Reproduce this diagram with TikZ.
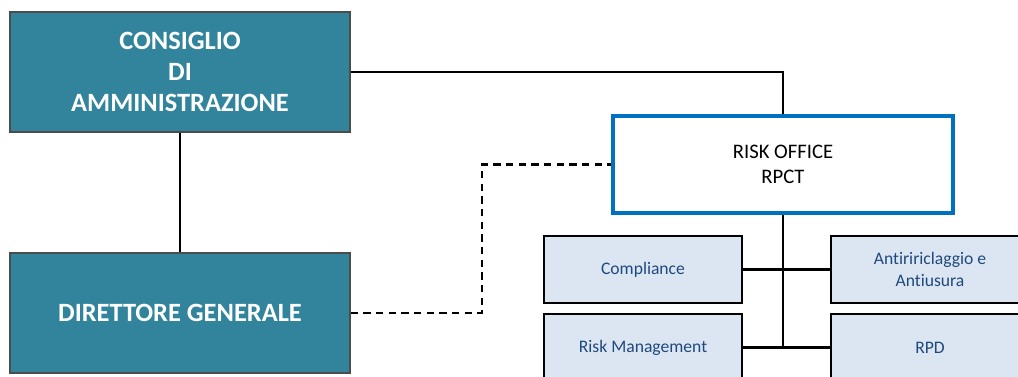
\documentclass[tikz,border=0pt]{standalone}
\usepackage{fontspec}
\setmainfont{Carlito}[Ligatures={NoCommon}]
\usepackage{tikz}

\definecolor{tealbox}{HTML}{31849B}
\definecolor{officeblue}{HTML}{0070C0}
\definecolor{unitfill}{HTML}{DCE6F2}
\definecolor{unittext}{HTML}{1F497D}

\tikzset{
  bodybox/.style={draw=black!70,line width=0.9pt,fill=tealbox,text=white,
    font=\fontsize{19.8}{23.5}\selectfont\bfseries,align=center,
    minimum width=340*0.75pt,minimum height=120*0.75pt,inner sep=0pt},
  officebox/.style={draw=officeblue,line width=2.3pt,fill=white,
    font=\fontsize{15.5}{19}\selectfont,align=center,
    minimum width=340*0.75pt,minimum height=97*0.75pt,inner sep=0pt},
  unitbox/.style={draw=black,line width=1.5pt,fill=unitfill,text=unittext,
    font=\fontsize{13.2}{17}\selectfont,align=center,
    minimum width=198*0.75pt,minimum height=67*0.75pt,inner sep=0pt},
  link/.style={line width=1.6pt},
  dotlink/.style={line width=1.6pt,dash pattern=on 5.5pt off 4pt}
}

\begin{document}
\begin{tikzpicture}[x=0.75pt,y=0.75pt,yscale=-1]
\useasboundingbox (0,0) rectangle (1018,376);
\clip (0,0) rectangle (1018,376);

% Board and general director
\node[bodybox] (cda) at (180,72) {CONSIGLIO\\DI\\AMMINISTRAZIONE};
\node[bodybox] (dg) at (180,313) {DIRETTORE GENERALE};

% Risk office
\node[officebox] (ro) at (783,164.5) {RISK OFFICE\\RPCT};

% Units under the risk office
\node[unitbox] (comp) at (643,269.5) {Compliance};
\node[unitbox] (anti) at (930,269.5) {Antiririclaggio e\\Antiusura};
\node[unitbox] (rm) at (643,347.5) {Risk Management};
\node[unitbox] (rpd) at (930,347.5) {RPD};

\coordinate (dashx) at (482,0);

% Connectors
\draw[link] (cda.south) -- (dg.north);
\draw[link] (cda.east) -| (ro.north);
\draw[dotlink] (dg.east) -- (dg.east -| dashx) |- (ro.west);
\draw[link] (ro.south) -- (ro.south |- rm.east);
\draw[link] (comp.east) -- (anti.west);
\draw[link] (rm.east) -- (rpd.west);

\end{tikzpicture}
\end{document}
